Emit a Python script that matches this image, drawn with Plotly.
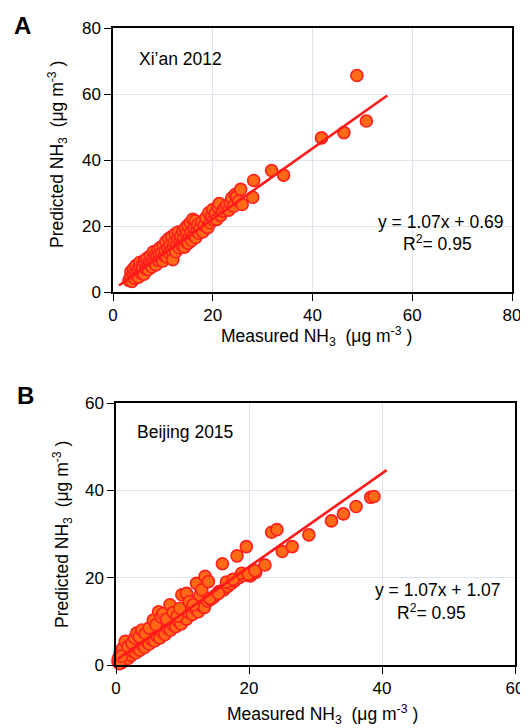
import plotly.graph_objects as go

# ---------------- Data ----------------
# Panel A: Xi'an 2012
xa = [3.2, 3.5, 3.6, 3.8, 4.0, 4.1, 4.3, 4.5, 4.6, 4.8, 5.0, 5.1, 5.3, 5.4, 5.6, 5.8, 5.9, 6.0, 6.2, 6.3,
      6.5, 6.6, 6.8, 7.0, 7.1, 7.3, 7.5, 7.6, 7.8, 8.0, 8.1, 8.3, 8.5, 8.6, 8.8, 9.0, 9.1, 9.3, 9.5, 9.6,
      9.8, 10.0, 10.1, 10.3, 10.5, 10.6, 10.8, 11.0, 11.2, 11.3, 11.5, 11.7, 11.8, 12.0, 12.1, 12.3, 12.5,
      12.6, 12.8, 13.0, 13.1, 13.3, 13.5, 13.6, 13.8, 14.0, 14.2, 14.3, 14.5, 14.7, 14.8, 15.0, 15.1, 15.3,
      15.5, 15.6, 15.8, 16.0, 16.1, 16.3, 16.5, 16.6, 16.8, 17.0, 17.2, 17.5, 17.8, 18.0, 18.3, 18.6, 19.0,
      19.2, 19.5, 19.8, 20.0, 20.2, 20.5, 20.8, 21.0, 21.3, 21.6, 22.0, 22.4, 22.8, 23.2, 23.5, 23.8, 24.2,
      24.5, 24.8, 25.2, 25.6, 25.9, 28.0, 28.2, 31.8, 34.2, 41.8, 46.3, 48.9, 50.8]
ya = [3.5, 4.8, 6.2, 3.2, 5.5, 7.0, 4.2, 6.0, 8.0, 5.0, 6.8, 4.5, 7.5, 9.0, 5.8, 6.5, 8.3, 7.2, 5.4, 9.5,
      8.4, 7.0, 10.2, 8.0, 6.8, 9.2, 11.0, 8.6, 7.6, 10.0, 12.2, 9.0, 11.2, 8.2, 10.5, 12.8, 9.6, 11.5, 13.5, 10.2,
      12.0, 9.4, 14.0, 11.0, 12.5, 15.3, 10.6, 13.2, 16.2, 11.8, 14.0, 12.6, 16.8, 9.8, 13.8, 15.0, 17.6,
      12.2, 14.5, 16.0, 18.2, 13.4, 15.5, 17.0, 14.2, 18.5, 16.2, 13.6, 19.4, 15.2, 17.5, 20.2, 14.8, 16.8,
      21.0, 18.0, 15.6, 22.0, 17.2, 19.2, 21.5, 16.5, 18.5, 20.4, 17.8, 19.5, 21.2, 18.2, 20.2, 22.5, 19.5,
      24.0, 21.0, 23.0, 25.0, 21.8, 23.8, 22.0, 25.8, 26.8, 23.2, 24.5, 25.5, 26.2, 24.8, 27.0, 28.5, 26.0,
      29.5, 28.9, 27.5, 31.1, 26.5, 28.7, 33.8, 36.8, 35.4, 46.7, 48.3, 65.6, 51.8]
fit_a_x = [1.2, 55.0]
fit_a_y = [1.07 * v + 0.69 for v in fit_a_x]

# Panel B: Beijing 2015
xb = [0.3, 0.5, 0.8, 1.0, 1.2, 1.5, 1.8, 2.0, 2.3, 2.6, 3.0, 3.3, 3.6, 4.0, 4.3, 4.7, 5.0, 5.4, 5.8, 6.2,
      6.6, 7.0, 7.4, 7.8, 8.2, 8.6, 9.0, 9.4, 9.8, 10.2, 10.6, 11.0, 11.5, 12.0, 12.4, 12.8, 13.3, 13.8,
      14.2, 14.6, 15.0, 15.5, 16.2, 16.8, 17.3, 17.8, 18.5, 19.2, 20.2, 20.6, 21.0,
      0.6, 1.0, 1.4, 1.8, 2.4, 2.8, 3.1, 3.5, 3.9, 4.4, 5.0, 5.6, 6.0, 6.4, 6.8, 7.1, 7.6, 8.1, 8.6, 9.2,
      9.6, 9.9, 10.6, 11.0, 11.6, 12.1, 12.6, 12.9, 13.4, 13.9, 14.1, 15.4, 16.0, 16.6, 17.6, 18.2, 18.9,
      19.6, 19.9, 20.9, 22.4, 23.4, 24.2, 25.0, 26.5, 29.0, 32.4, 34.2, 36.1, 38.3, 38.8, 0.35, 0.5, 0.8]
yb = [0.8, 1.2, 0.5, 1.8, 1.0, 2.0, 1.5, 2.8, 2.2, 3.0, 2.8, 3.8, 3.4, 4.5, 4.0, 5.2, 4.8, 5.8, 5.5, 6.6,
      6.2, 7.5, 7.0, 8.4, 8.0, 9.2, 8.8, 10.0, 9.4, 11.0, 10.5, 12.0, 11.6, 12.8, 12.2, 13.6, 13.2, 14.6,
      15.0, 15.4, 16.0, 16.8, 17.2, 18.0, 18.6, 19.2, 20.0, 20.5, 20.4, 21.0, 21.2,
      2.7, 3.8, 5.4, 4.2, 5.0, 6.2, 7.3, 6.5, 8.0, 7.2, 8.5, 10.3, 9.2, 12.2, 11.0, 11.8, 10.5, 13.8, 12.0, 11.2,
      13.0, 16.1, 16.4, 14.5, 13.8, 18.7, 16.0, 17.2, 20.3, 19.1, 15.3, 16.4, 23.2, 19.0, 19.6, 25.0, 21.0,
      27.1, 20.8, 21.6, 22.9, 30.4, 31.0, 26.0, 27.1, 29.8, 33.0, 34.6, 36.3, 38.4, 38.6, 1.5, 0.3, 2.0]
fit_b_x = [0.3, 40.7]
fit_b_y = [1.07 * v + 1.07 for v in fit_b_x]

ticks_a = [0, 20, 40, 60, 80]
ticks_b = [0, 20, 40, 60]

# ---------------- Styles ----------------
FONT = "Liberation Sans, Arial, sans-serif"
FILL = "#FF6A17"
EDGE = "#FF1E1E"
LINE = "#FF1A1A"
GRID = "#DCE5EE"

# page body has an 8px margin, so the figure is 520x720 placed at (8, 8)
W, H = 520, 720
OFF = 8

def px(x):
    return (x - OFF) / W

def py(y):
    return 1 - (y - OFF) / H

fig = go.Figure()

fig.add_trace(go.Scatter(x=xa, y=ya, mode="markers", xaxis="x", yaxis="y",
                         marker=dict(size=12, color=FILL, line=dict(color=EDGE, width=1.6)),
                         showlegend=False, cliponaxis=False))
fig.add_trace(go.Scatter(x=fit_a_x, y=fit_a_y, mode="lines", xaxis="x", yaxis="y",
                         line=dict(color=LINE, width=2.6), showlegend=False))
fig.add_trace(go.Scatter(x=xb, y=yb, mode="markers", xaxis="x2", yaxis="y2",
                         marker=dict(size=12, color=FILL, line=dict(color=EDGE, width=1.6)),
                         showlegend=False, cliponaxis=False))
fig.add_trace(go.Scatter(x=fit_b_x, y=fit_b_y, mode="lines", xaxis="x2", yaxis="y2",
                         line=dict(color=LINE, width=2.6), showlegend=False))

def ax(domain, rng, ticks, anchor):
    return dict(domain=domain, range=rng, tickvals=ticks, ticktext=[str(t) for t in ticks],
                showline=True, linecolor="black", linewidth=1.5, mirror=True,
                ticks="outside", ticklen=7, tickwidth=1.3, tickcolor="black",
                showgrid=True, gridcolor=GRID, gridwidth=1, zeroline=False,
                tickfont=dict(family=FONT, size=17, color="black"),
                anchor=anchor, fixedrange=True, automargin=False)

fig.update_layout(
    width=W, height=H, margin=dict(l=0, r=0, t=0, b=0),
    paper_bgcolor="white", plot_bgcolor="white",
    xaxis=ax([px(113), px(512)], [0, 80], ticks_a, "y"),
    yaxis=ax([py(292), py(28)], [0, 80], ticks_a, "x"),
    xaxis2=ax([px(116), px(515)], [0, 60], ticks_b, "y2"),
    yaxis2=ax([py(665), py(403)], [0, 60], ticks_b, "x2"),
    font=dict(family=FONT, color="black"),
)

xt = "Measured NH<sub>3</sub>  (μg m<sup>-3</sup> )"
yt = "Predicted NH<sub>3</sub>  (μg m<sup>-3</sup> )"

titles = [
    dict(x=px(316), y=py(337), text=xt, textangle=0),
    dict(x=px(58), y=py(155), text=yt, textangle=-90),
    dict(x=px(322), y=py(714), text=xt, textangle=0),
    dict(x=px(62), y=py(535), text=yt, textangle=-90),
]
for t in titles:
    fig.add_annotation(**t, xref="paper", yref="paper", xanchor="center", yanchor="middle",
                       showarrow=False, font=dict(family=FONT, size=17.5, color="black"))

ann = [
    dict(x=4.8, y=70.6, xref="x", yref="y", text="Xi’an 2012", xanchor="left"),
    dict(x=65.8, y=21.2, xref="x", yref="y", text="y = 1.07x + 0.69", xanchor="center"),
    dict(x=65.0, y=14.8, xref="x", yref="y", text="R<sup>2</sup>= 0.95", xanchor="center"),
    dict(x=2.9, y=53.4, xref="x2", yref="y2", text="Beijing 2015", xanchor="left"),
    dict(x=48.4, y=17.2, xref="x2", yref="y2", text="y = 1.07x + 1.07", xanchor="center"),
    dict(x=47.4, y=12.1, xref="x2", yref="y2", text="R<sup>2</sup>= 0.95", xanchor="center"),
]
for a in ann:
    fig.add_annotation(**a, yanchor="middle", showarrow=False,
                       font=dict(family=FONT, size=17.5, color="black"))

fig.add_annotation(x=px(12), y=py(25), xref="paper", yref="paper", text="<b>A</b>",
                   xanchor="left", yanchor="middle", showarrow=False,
                   font=dict(family=FONT, size=24, color="black"))
fig.add_annotation(x=px(15), y=py(395), xref="paper", yref="paper", text="<b>B</b>",
                   xanchor="left", yanchor="middle", showarrow=False,
                   font=dict(family=FONT, size=24, color="black"))

fig.write_html("out.html")
